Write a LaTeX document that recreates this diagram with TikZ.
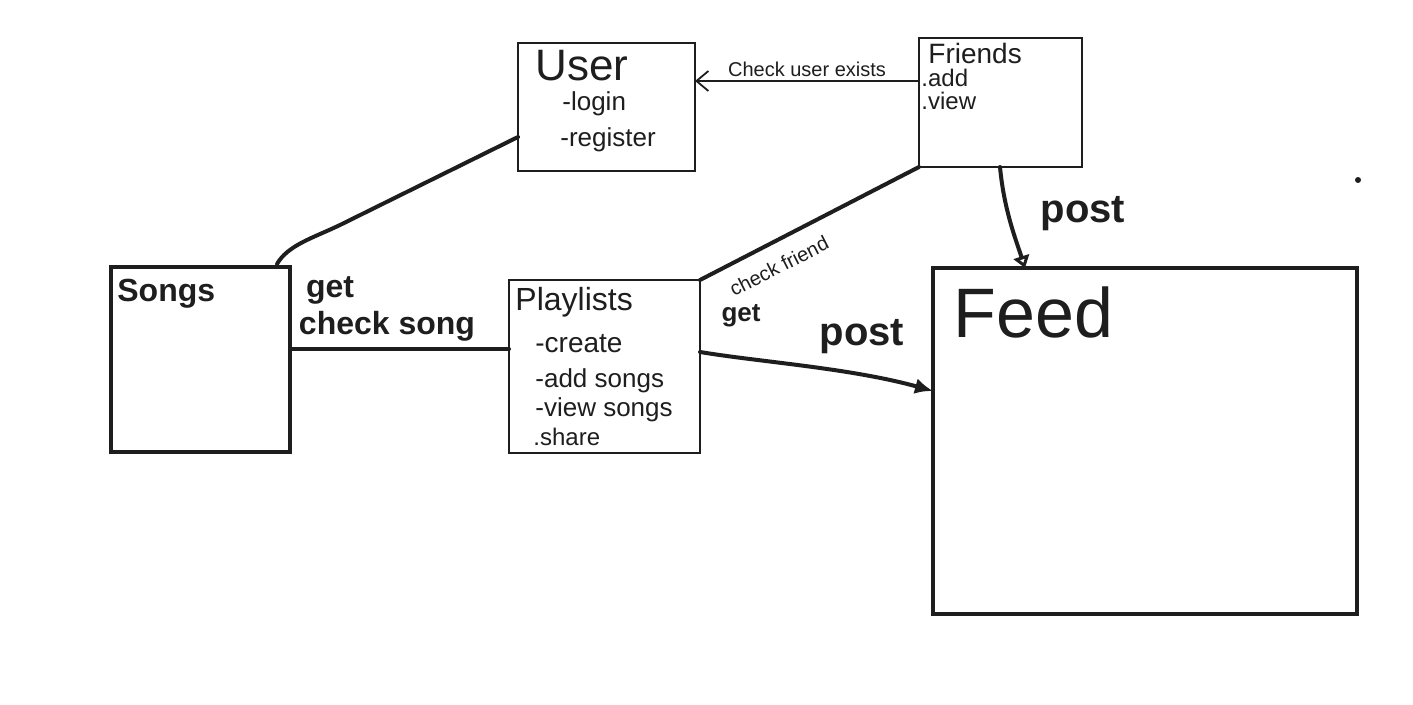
\documentclass[tikz,border=0pt]{standalone}
\usepackage{fontspec}
\setmainfont{Liberation Sans}
\usetikzlibrary{arrows.meta}
\definecolor{ink}{HTML}{1E1E1E}
\newcommand{\fs}[1]{\fontsize{#1}{#1}\selectfont}
\tikzset{
  box/.style={draw=ink, rectangle, inner sep=0pt, outer sep=0pt},
  thinbox/.style={box, line width=1pt},
  medbox/.style={box, line width=1.3pt},
  thickbox/.style={box, line width=2pt},
  txt/.style={anchor=west, inner sep=0pt, text=ink},
  lbl/.style={inner sep=0pt, text=ink, font=\bfseries},
  thinwire/.style={draw=ink, line width=0.9pt},
  thickwire/.style={draw=ink, line width=2pt, line cap=round},
}
\begin{document}
\begin{tikzpicture}[x=0.5pt, y=-0.5pt]
\useasboundingbox[fill=white] (0,0) rectangle (1413,705);

% boxes
\node[thinbox, minimum width=88.5pt, minimum height=64pt] (user) at (606.5,107) {};
\node[thinbox, minimum width=81.5pt, minimum height=64.5pt] (friends) at (1000.5,102.5) {};
\node[thickbox, minimum width=89.5pt, minimum height=92.5pt] (songs) at (200.5,359.5) {};
\node[medbox, minimum width=95.5pt, minimum height=86.5pt] (playlists) at (604.5,366.5) {};
\node[thickbox, minimum width=212pt, minimum height=173pt] (feed) at (1145,441) {};

% box texts
\node[txt, font=\fs{22}] (usert) at (535,66) {User};
\node[txt, font=\fs{13}] (userl) at (562,104) {-login};
\node[txt, font=\fs{13}] (userr) at (560,140) {-register};

\node[txt, font=\fs{14}] (friendst) at (928,53) {Friends};
\node[txt, font=\fs{12}] (frienda) at (921,78) {.add};
\node[txt, font=\fs{12}] (friendv) at (921,101) {.view};

\node[txt, font=\fs{16}\bfseries] (songst) at (117,294) {Songs};

\node[txt, font=\fs{16}] (plt) at (515,302) {Playlists};
\node[txt, font=\fs{14}] (plc) at (535,344) {-create};
\node[txt, font=\fs{13}] (pla) at (535,381) {-add songs};
\node[txt, font=\fs{13}] (plv) at (535,410) {-view songs};
\node[txt, font=\fs{12}] (pls) at (533,437) {.share};

\node[txt, font=\fs{35}] (feedt) at (953,312) {Feed};

% connectors
\draw[thinwire, -{Straight Barb[length=6pt, width=10pt]}]
  (friends.west |- 0,81) -- node[above=1.5pt, inner sep=0pt, text=ink, font=\fs{10}] (lcheck) {Check user exists} (user.east |- 0,81);

\draw[thickwire]
  (user.west |- 0,137) -- (340,225) .. controls (313,238) and (288,245) .. (277,264);

\draw[thickwire] (songs.east |- 0,349) -- (playlists.west |- 0,349);
\node[lbl, font=\fs{16}\bfseries] (lget) at (330,290) {get};
\node[lbl, font=\fs{16}\bfseries] (lsong) at (387,326) {check song};

\draw[thickwire] (friends.south west) -- (playlists.north east);
\node[lbl, font=\fs{10}, rotate=27] (lfriend) at (779,266) {check friend};
\node[lbl, font=\fs{13}\bfseries] (lget2) at (741,316) {get};

\draw[thickwire, -{Latex[length=9pt, width=8pt]}]
  (playlists.east |- 0,352) .. controls (760,362) and (850,368) .. (feed.west |- 0,391);
\node[lbl, font=\fs{20}\bfseries] (lpost1) at (862,337) {post};

\draw[thickwire, -{Triangle[open, length=6pt, width=8pt]}]
  (friends.south -| 1000,0) .. controls (1004,210) and (1016,240) .. (feed.north -| 1025,0);
\node[lbl, font=\fs{20}\bfseries] (lpost2) at (1083,214) {post};

\fill[ink] (1358,180) circle (1.5pt);
\end{tikzpicture}
\end{document}
